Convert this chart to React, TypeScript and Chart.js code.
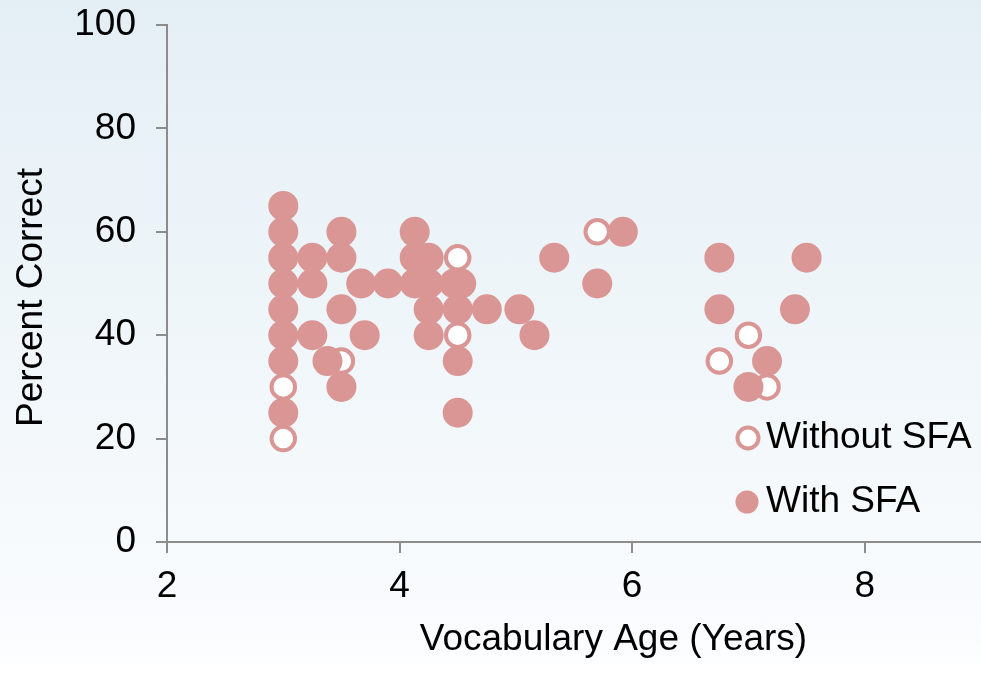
import React, { useEffect, useRef } from "react";
import { Chart, registerables } from "chart.js";

Chart.register(...registerables);

// Without SFA (open circles)
const withoutX = [3, 3, 3.5, 4.5, 4.5, 5.7, 7.0, 6.75, 7.16];
const withoutY = [30, 20, 35, 55, 40, 60, 40, 35, 30];

// With SFA (filled circles)
const withX = [
  3, 3, 3, 3, 3, 3, 3, 3,
  3.25, 3.25, 3.25,
  3.5, 3.5, 3.5, 3.5,
  3.38, 3.67, 3.7, 3.9,
  4.13, 4.13, 4.13,
  4.25, 4.25, 4.25, 4.25,
  4.47, 4.53, 4.5, 4.5, 4.5,
  4.75, 5.03, 5.16, 5.33, 5.7, 5.92,
  6.75, 6.75, 7.16, 7.0, 7.5, 7.4,
];
const withY = [
  65, 60, 55, 50, 45, 40, 35, 25,
  55, 50, 40,
  60, 55, 45, 30,
  35, 50, 40, 50,
  60, 55, 50,
  55, 50, 45, 40,
  50, 50, 45, 35, 25,
  45, 45, 40, 55, 50, 60,
  55, 45, 35, 30, 55, 45,
];

const xTicks = [2, 4, 6, 8];
const yTicks = [0, 20, 40, 60, 80, 100];
const seriesNames = ["Without SFA", "With SFA"];
const xTitle = "Vocabulary Age (Years)";
const yTitle = "Percent Correct";

const PINK = "#D99694";
const AXIS = "#8c8c8c";
const FONT = "Arial, 'Liberation Sans', sans-serif";
const FS = 37;

const overlayPlugin = {
  id: "overlay",
  afterDraw(chart: any) {
    const ctx = chart.ctx;
    ctx.save();
    ctx.fillStyle = "#000";
    ctx.font = `${FS}px ${FONT}`;
    ctx.textBaseline = "middle";
    // axis titles
    ctx.textAlign = "center";
    ctx.fillText(xTitle, 613.5, 640);
    ctx.save();
    ctx.translate(32, 297.5);
    ctx.rotate(-Math.PI / 2);
    ctx.fillText(yTitle, 0, 0);
    ctx.restore();
    // legend
    ctx.beginPath();
    ctx.arc(748, 438, 10.5, 0, Math.PI * 2);
    ctx.fillStyle = "#ffffff";
    ctx.fill();
    ctx.lineWidth = 4;
    ctx.strokeStyle = PINK;
    ctx.stroke();
    ctx.beginPath();
    ctx.arc(747, 502, 11.5, 0, Math.PI * 2);
    ctx.fillStyle = PINK;
    ctx.fill();
    ctx.fillStyle = "#000";
    ctx.textAlign = "left";
    ctx.fillText(seriesNames[0], 766, 438);
    ctx.fillText(seriesNames[1], 766, 502);
    ctx.restore();
  },
};

export default function App() {
  const ref = useRef<HTMLCanvasElement | null>(null);
  useEffect(() => {
    if (!ref.current) return;
    const chart = new Chart(ref.current, {
      type: "scatter",
      data: {
        datasets: [
          {
            label: seriesNames[1],
            data: withX.map((x, i) => ({ x, y: withY[i] })),
            pointStyle: "circle",
            pointRadius: 15,
            pointBorderWidth: 0,
            backgroundColor: PINK,
            borderColor: PINK,
          },
          {
            label: seriesNames[0],
            data: withoutX.map((x, i) => ({ x, y: withoutY[i] })),
            pointStyle: "circle",
            pointRadius: 11.75,
            pointBorderWidth: 4,
            backgroundColor: "#ffffff",
            borderColor: PINK,
          },
        ],
      },
      options: {
        animation: false,
        responsive: false,
        events: [],
        layout: { autoPadding: false, padding: { top: 25, left: 0, right: 0, bottom: 0 } },
        plugins: { legend: { display: false }, tooltip: { enabled: false } },
        scales: {
          x: {
            type: "linear",
            min: 2,
            max: 9,
            afterBuildTicks: (s: any) => {
              s.ticks = xTicks.map((v) => ({ value: v }));
            },
            afterFit: (s: any) => {
              s.height = 131;
              s.paddingLeft = 0;
              s.paddingRight = 0;
            },
            border: { display: true, color: AXIS, width: 2 },
            grid: {
              display: true,
              drawOnChartArea: false,
              drawTicks: true,
              tickLength: 11,
              color: AXIS,
              lineWidth: 2,
            },
            ticks: {
              color: "#000",
              padding: 12,
              font: { size: FS, family: FONT },
            },
          },
          y: {
            type: "linear",
            min: 0,
            max: 100,
            afterBuildTicks: (s: any) => {
              s.ticks = yTicks.map((v) => ({ value: v }));
            },
            afterFit: (s: any) => {
              s.width = 167;
              s.paddingTop = 0;
              s.paddingBottom = 0;
            },
            border: { display: true, color: AXIS, width: 2 },
            grid: {
              display: true,
              drawOnChartArea: false,
              drawTicks: true,
              tickLength: 11,
              color: AXIS,
              lineWidth: 2,
            },
            ticks: {
              color: "#000",
              padding: 20,
              font: { size: FS, family: FONT },
            },
          },
        },
      },
      plugins: [overlayPlugin],
    });
    return () => chart.destroy();
  }, []);
  return (
    <div
      style={{
        position: "fixed",
        left: 0,
        top: 0,
        width: 981,
        height: 673,
        overflow: "hidden",
        background: "linear-gradient(to bottom, #e4eff5 0%, #fafcfe 95%, #ffffff 100%)",
      }}
    >
      <canvas ref={ref} width={981} height={673} style={{ display: "block", width: 981, height: 673 }} />
    </div>
  );
}
